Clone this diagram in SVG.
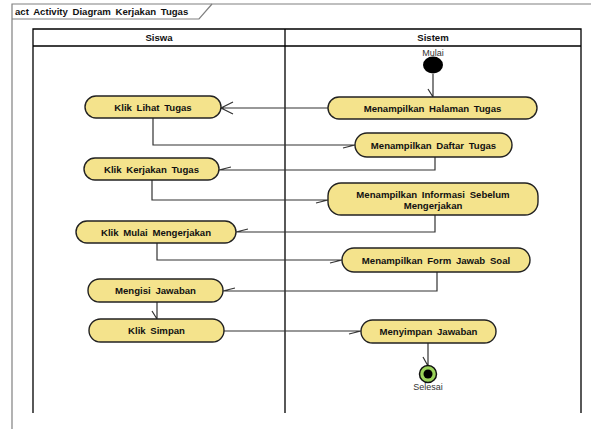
<svg xmlns="http://www.w3.org/2000/svg" width="591" height="429" viewBox="0 0 591 429">
<style>
.frame{fill:none;stroke:#808080;stroke-width:1.2}
.lane{fill:none;stroke:#000;stroke-width:1.3}
.act{fill:#F4E38C;stroke:#222;stroke-width:1.4}
.t{font-family:"Liberation Sans",Arial,sans-serif;font-weight:bold;font-size:9.6px;fill:#111;text-anchor:middle;word-spacing:2px}
.s{font-family:"Liberation Sans",Arial,sans-serif;font-size:9px;fill:#333;text-anchor:middle}
.c{fill:none;stroke:#333;stroke-width:1.2}
</style>
<rect width="591" height="429" fill="#fff"/>
<g id="frame">
<path class="frame" d="M12,429 V4 H591"/>
<path class="frame" d="M12,19 H199 L212,4"/>
<text class="t" x="15" y="15" style="text-anchor:start">act Activity Diagram Kerjakan Tugas</text>
</g>
<g id="lanes">
<path class="lane" d="M33,413 V29 H581 V413 M33,46 H581 M285,29 V413"/>
<text class="t" x="159" y="41">Siswa</text>
<text class="t" x="433" y="41">Sistem</text>
</g>
<g id="connectors">
<path class="c" d="M433,74 V97 M428,89 L433,97"/>
<path class="c" d="M328,108 H221 M233,102 L221,108 L233,114"/>
<path class="c" d="M153,118 V145 H355 M343,148 L355,145"/>
<path class="c" d="M435,157 V170 H219 M231,167 L219,170"/>
<path class="c" d="M152,180 V200 H328 M316,203 L328,200"/>
<path class="c" d="M435,215 V232 H236 M248,229 L236,232"/>
<path class="c" d="M157,243 V260 H342 M330,263 L342,260"/>
<path class="c" d="M437,272 V291 H223 M235,288 L223,291"/>
<path class="c" d="M157,302 V319 M152,311 L157,319"/>
<path class="c" d="M224,331 H361 M349,334 L361,331"/>
<path class="c" d="M428,343 V366 M423,357 L428,366"/>
</g>
<g id="start">
<ellipse cx="433" cy="65" rx="10" ry="8.5" fill="#000"/>
<text class="s" x="433" y="56">Mulai</text>
</g>
<g id="n1"><rect class="act" x="328" y="97" width="209" height="22" rx="11"/><text class="t" x="432.5" y="111.5">Menampilkan Halaman Tugas</text></g>
<g id="n2"><rect class="act" x="85" y="96" width="136" height="22" rx="11"/><text class="t" x="153" y="110.5">Klik Lihat Tugas</text></g>
<g id="n3"><rect class="act" x="355" y="133" width="157" height="24" rx="12"/><text class="t" x="433.5" y="148.5">Menampilkan Daftar Tugas</text></g>
<g id="n4"><rect class="act" x="84" y="158" width="135" height="22" rx="11"/><text class="t" x="151.5" y="172.5">Klik Kerjakan Tugas</text></g>
<g id="n5"><rect class="act" x="328" y="183" width="210" height="32" rx="13"/><text class="t" x="433" y="198">Menampilkan Informasi Sebelum</text><text class="t" x="433" y="209">Mengerjakan</text></g>
<g id="n6"><rect class="act" x="76" y="221" width="160" height="22" rx="11"/><text class="t" x="156" y="235.5">Klik Mulai Mengerjakan</text></g>
<g id="n7"><rect class="act" x="342" y="248" width="188" height="24" rx="12"/><text class="t" x="436" y="263.5">Menampilkan Form Jawab Soal</text></g>
<g id="n8"><rect class="act" x="88" y="279" width="135" height="23" rx="11.5"/><text class="t" x="155.5" y="294">Mengisi Jawaban</text></g>
<g id="n9"><rect class="act" x="89" y="319" width="135" height="23" rx="11.5"/><text class="t" x="156.5" y="334">Klik Simpan</text></g>
<g id="n10"><rect class="act" x="361" y="320" width="135" height="23" rx="11.5"/><text class="t" x="428.5" y="335">Menyimpan Jawaban</text></g>
<g id="end">
<circle cx="428" cy="374" r="8.5" fill="#9BD35A" stroke="#111" stroke-width="1.5"/>
<circle cx="428" cy="374" r="4.5" fill="#000"/>
<text class="s" x="428" y="390">Selesai</text>
</g>
</svg>
